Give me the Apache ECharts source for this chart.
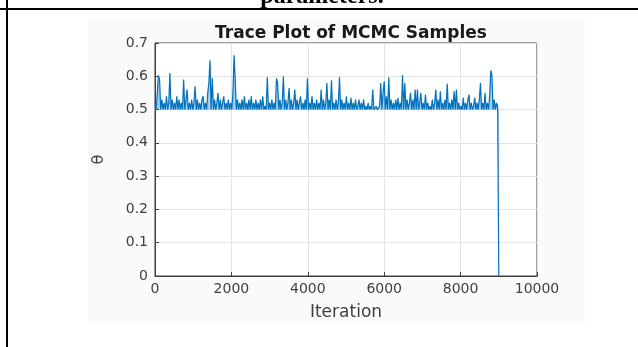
<!DOCTYPE html>
<html>
<head>
<meta charset="utf-8">
<title>Trace Plot of MCMC Samples</title>
<script src="https://cdn.jsdelivr.net/npm/echarts@6/dist/echarts.min.js"></script>
<style>
  html, body { margin: 0; padding: 0; background: #ffffff; }
  #chart { width: 638px; height: 347px; }
</style>
</head>
<body>
<div id="chart"></div>
<script>
// Thinned MCMC chain: one stored sample every `thinStep` iterations.
const thinStep = 30;

// Sampled theta values (index i -> iteration i * thinStep)
const theta = [
  0.52, 0.5, 0.55, 0.603, 0.59, 0.5, 0.53, 0.5, 0.52, 0.5, 0.54, 0.5, 0.52, 0.61, 0.5, 0.53, 0.5, 0.52, 0.5, 0.54,
  0.5, 0.53, 0.5, 0.52, 0.5, 0.59, 0.5, 0.53, 0.56, 0.5, 0.52, 0.5, 0.53, 0.5, 0.52, 0.57, 0.5, 0.53, 0.5, 0.52,
  0.5, 0.53, 0.54, 0.5, 0.52, 0.5, 0.55, 0.58, 0.648, 0.5, 0.595, 0.5, 0.53, 0.5, 0.52, 0.55, 0.5, 0.53, 0.5, 0.52,
  0.54, 0.5, 0.52, 0.5, 0.53, 0.5, 0.52, 0.5, 0.55, 0.663, 0.59, 0.5, 0.53, 0.5, 0.52, 0.5, 0.53, 0.5, 0.54, 0.5,
  0.52, 0.5, 0.53, 0.5, 0.54, 0.5, 0.52, 0.5, 0.53, 0.5, 0.52, 0.5, 0.53, 0.5, 0.54, 0.5, 0.51, 0.5, 0.597, 0.5,
  0.52, 0.5, 0.53, 0.5, 0.52, 0.5, 0.594, 0.58, 0.5, 0.53, 0.5, 0.52, 0.60, 0.5, 0.53, 0.5, 0.52, 0.565, 0.5, 0.53,
  0.5, 0.52, 0.56, 0.5, 0.53, 0.5, 0.52, 0.54, 0.5, 0.52, 0.5, 0.53, 0.5, 0.594, 0.5, 0.52, 0.5, 0.54, 0.5, 0.52,
  0.5, 0.53, 0.5, 0.52, 0.5, 0.56, 0.5, 0.53, 0.5, 0.52, 0.58, 0.5, 0.53, 0.5, 0.588, 0.5, 0.52, 0.5, 0.53, 0.5,
  0.52, 0.597, 0.5, 0.53, 0.5, 0.52, 0.5, 0.54, 0.5, 0.52, 0.5, 0.535, 0.5, 0.52, 0.5, 0.53, 0.5, 0.51, 0.53, 0.5,
  0.52, 0.5, 0.53, 0.5, 0.51, 0.5, 0.52, 0.5, 0.51, 0.5, 0.56, 0.5, 0.5, 0.51, 0.5, 0.5, 0.51, 0.58, 0.5, 0.55,
  0.585, 0.5, 0.54, 0.5, 0.597, 0.5, 0.53, 0.5, 0.52, 0.5, 0.53, 0.5, 0.535, 0.5, 0.52, 0.5, 0.603, 0.5, 0.58, 0.5,
  0.53, 0.5, 0.52, 0.55, 0.5, 0.53, 0.5, 0.56, 0.5, 0.56, 0.5, 0.52, 0.55, 0.5, 0.52, 0.5, 0.545, 0.5, 0.52, 0.5,
  0.51, 0.5, 0.53, 0.5, 0.52, 0.56, 0.5, 0.53, 0.5, 0.555, 0.5, 0.52, 0.5, 0.53, 0.5, 0.578, 0.5, 0.52, 0.5, 0.53,
  0.5, 0.555, 0.5, 0.56, 0.5, 0.52, 0.5, 0.51, 0.5, 0.535, 0.5, 0.52, 0.5, 0.53, 0.545, 0.5, 0.52, 0.5, 0.51, 0.535,
  0.5, 0.52, 0.5, 0.53, 0.58, 0.5, 0.52, 0.5, 0.55, 0.5, 0.52, 0.5, 0.54, 0.618, 0.603, 0.5, 0.53, 0.5, 0.52, 0.51,
  0
];

const chartTitle = 'Trace Plot of MCMC Samples';
const xName = 'Iteration';
const yName = 'θ';
const captionText = 'parameters.';

const xTicks = { min: 0, max: 10000, interval: 2000 };
const yTicks = { min: 0, max: 0.7, interval: 0.1 };
const chainFloor = 0.5;

const traceData = theta.map((v, i) => [i * thinStep, v]);

const chart = echarts.init(document.getElementById('chart'), null, { renderer: 'canvas' });

const axisFont = 'DejaVu Sans, Liberation Sans, sans-serif';
const axisGrey = '#404040';

chart.setOption({
  animation: false,
  backgroundColor: '#ffffff',
  title: {
    text: chartTitle,
    left: 346,
    top: 20,
    textAlign: 'center',
    textStyle: {
      fontFamily: axisFont,
      fontWeight: 'bold',
      fontSize: 17,
      color: '#1a1a1a'
    }
  },
  graphic: [
    // figure panel behind the axes
    { type: 'rect', z: -10, silent: true,
      shape: { x: 88, y: 20, width: 497, height: 302 },
      style: { fill: '#fafafa' } },
    // document table rules
    { type: 'rect', z: 10, silent: true,
      shape: { x: 0, y: 8, width: 638, height: 2 },
      style: { fill: '#000000' } },
    { type: 'rect', z: 10, silent: true,
      shape: { x: 6, y: 0, width: 2, height: 347 },
      style: { fill: '#000000' } },
    // caption line above the table rule (runs off the top edge)
    { type: 'text', z: 10, silent: true,
      style: {
        text: captionText, x: 322, y: 9,
        align: 'center', verticalAlign: 'bottom',
        font: 'bold 24px "Liberation Serif", "DejaVu Serif", serif',
        fill: '#000000'
      } }
  ],
  grid: {
    left: 155, right: 101, top: 43, bottom: 71,
    show: true,
    borderColor: axisGrey,
    borderWidth: 1,
    backgroundColor: '#ffffff'
  },
  xAxis: {
    type: 'value',
    min: xTicks.min, max: xTicks.max, interval: xTicks.interval,
    name: xName,
    nameLocation: 'middle',
    nameGap: 28,
    nameTextStyle: { fontFamily: axisFont, fontSize: 17, color: axisGrey },
    axisLine: { show: true, onZero: false, lineStyle: { color: axisGrey, width: 1 } },
    axisTick: { show: true, inside: true, length: 4, lineStyle: { color: axisGrey } },
    axisLabel: {
      fontFamily: axisFont, fontSize: 14, color: axisGrey, margin: 6,
      formatter: v => String(v)
    },
    splitLine: { show: true, lineStyle: { color: '#e3e3e3', width: 1 } }
  },
  yAxis: {
    type: 'value',
    min: yTicks.min, max: yTicks.max, interval: yTicks.interval,
    name: yName,
    nameLocation: 'middle',
    nameGap: 48,
    nameTextStyle: { fontFamily: axisFont, fontSize: 16, color: axisGrey },
    axisLine: { show: true, lineStyle: { color: axisGrey, width: 1 } },
    axisTick: { show: true, inside: true, length: 4, lineStyle: { color: axisGrey } },
    axisLabel: {
      fontFamily: axisFont, fontSize: 14, color: axisGrey, margin: 7,
      formatter: v => (v === 0 ? '0' : v.toFixed(1))
    },
    splitLine: { show: true, lineStyle: { color: '#e3e3e3', width: 1 } }
  },
  series: [{
    type: 'line',
    data: traceData,
    showSymbol: false,
    symbol: 'none',
    clip: true,
    lineStyle: { color: '#0072BD', width: 1.2 },
    itemStyle: { color: '#0072BD' },
    // dense lower band of the chain, filled down to its floor value
    areaStyle: { color: '#2f8fd0', opacity: 0.45, origin: chainFloor }
  }]
});
</script>
</body>
</html>
